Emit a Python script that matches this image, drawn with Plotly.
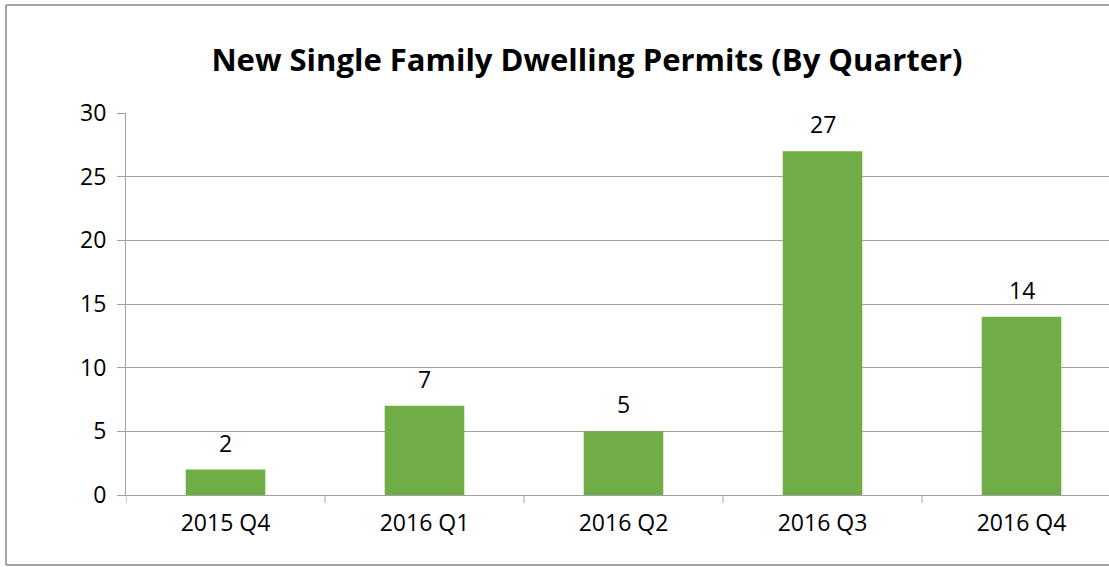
import plotly.graph_objects as go

categories = ["2015 Q4", "2016 Q1", "2016 Q2", "2016 Q3", "2016 Q4"]
permits = [2, 7, 5, 27, 14]
y_ticks = [0, 5, 10, 15, 20, 25, 30]

FONT = "Open Sans, Liberation Sans, sans-serif"
W, H = 1109, 567
ML, MR, MT, MB = 126, 0, 113, 72
PW, PH = W - ML - MR, H - MT - MB

fig = go.Figure()
fig.add_trace(go.Bar(
    x=list(range(len(categories))), y=permits,
    marker=dict(color="#70AD47", line=dict(width=0)),
    width=0.4, hoverinfo="skip",
))

for i, v in enumerate(permits):
    fig.add_annotation(x=i, y=v, text=str(v), showarrow=False,
                       yanchor="bottom", yshift=9,
                       font=dict(family=FONT, size=23, color="#000"))

def px_x(px):
    return (px - ML) / PW

def px_y(py):
    return (H - MB - py) / PH

border = dict(color="#888888", width=1.5)
x0, x1 = px_x(6), px_x(1115)
y_top, y_bot = px_y(5), px_y(565)
fig.add_shape(type="line", xref="paper", yref="paper", x0=x0, x1=x1, y0=y_top, y1=y_top, line=border)
fig.add_shape(type="line", xref="paper", yref="paper", x0=x0, x1=x0, y0=y_top, y1=y_bot, line=border)
fig.add_shape(type="line", xref="paper", yref="paper", x0=x0, x1=x1, y0=y_bot, y1=y_bot, line=border)

cat_px = 199
fig.update_layout(
    width=W, height=H,
    margin=dict(l=ML, r=MR, t=MT, b=MB, autoexpand=False),
    paper_bgcolor="white", plot_bgcolor="white",
    showlegend=False,
    title=dict(text="<b>New Single Family Dwelling Permits (By Quarter)</b>",
               x=587 / W, xanchor="center", y=1 - 60 / H, yanchor="middle",
               font=dict(family=FONT, size=31, color="#000")),
    xaxis=dict(
        tickmode="array", tickvals=list(range(len(categories))), ticktext=categories,
        range=[-0.5, -0.5 + PW / cat_px],
        showgrid=False, zeroline=False,
        showline=True, linecolor="#A0A0A0", linewidth=1,
        ticks="", tickfont=dict(family=FONT, size=23, color="#000"),
        ticklabelstandoff=7,
    ),
    yaxis=dict(
        range=[0, 30], tickvals=y_ticks,
        showgrid=True, gridcolor="#A0A0A0", gridwidth=1,
        zeroline=False, showline=True, linecolor="#A0A0A0", linewidth=1,
        ticks="outside", ticklen=8, tickcolor="#A0A0A0",
        tickfont=dict(family=FONT, size=23, color="#000"),
        ticklabelstandoff=6,
    ),
)

for b in range(len(categories) + 1):
    xb = b - 0.5
    fig.add_shape(type="line", xref="x", yref="paper", x0=xb, x1=xb,
                  y0=0, y1=-8 / PH, line=dict(color="#A0A0A0", width=1))

fig.write_html("out.html",
               config={"displayModeBar": False, "staticPlot": True},
               post_script="document.body.style.margin='0';document.body.style.overflow='hidden';")
